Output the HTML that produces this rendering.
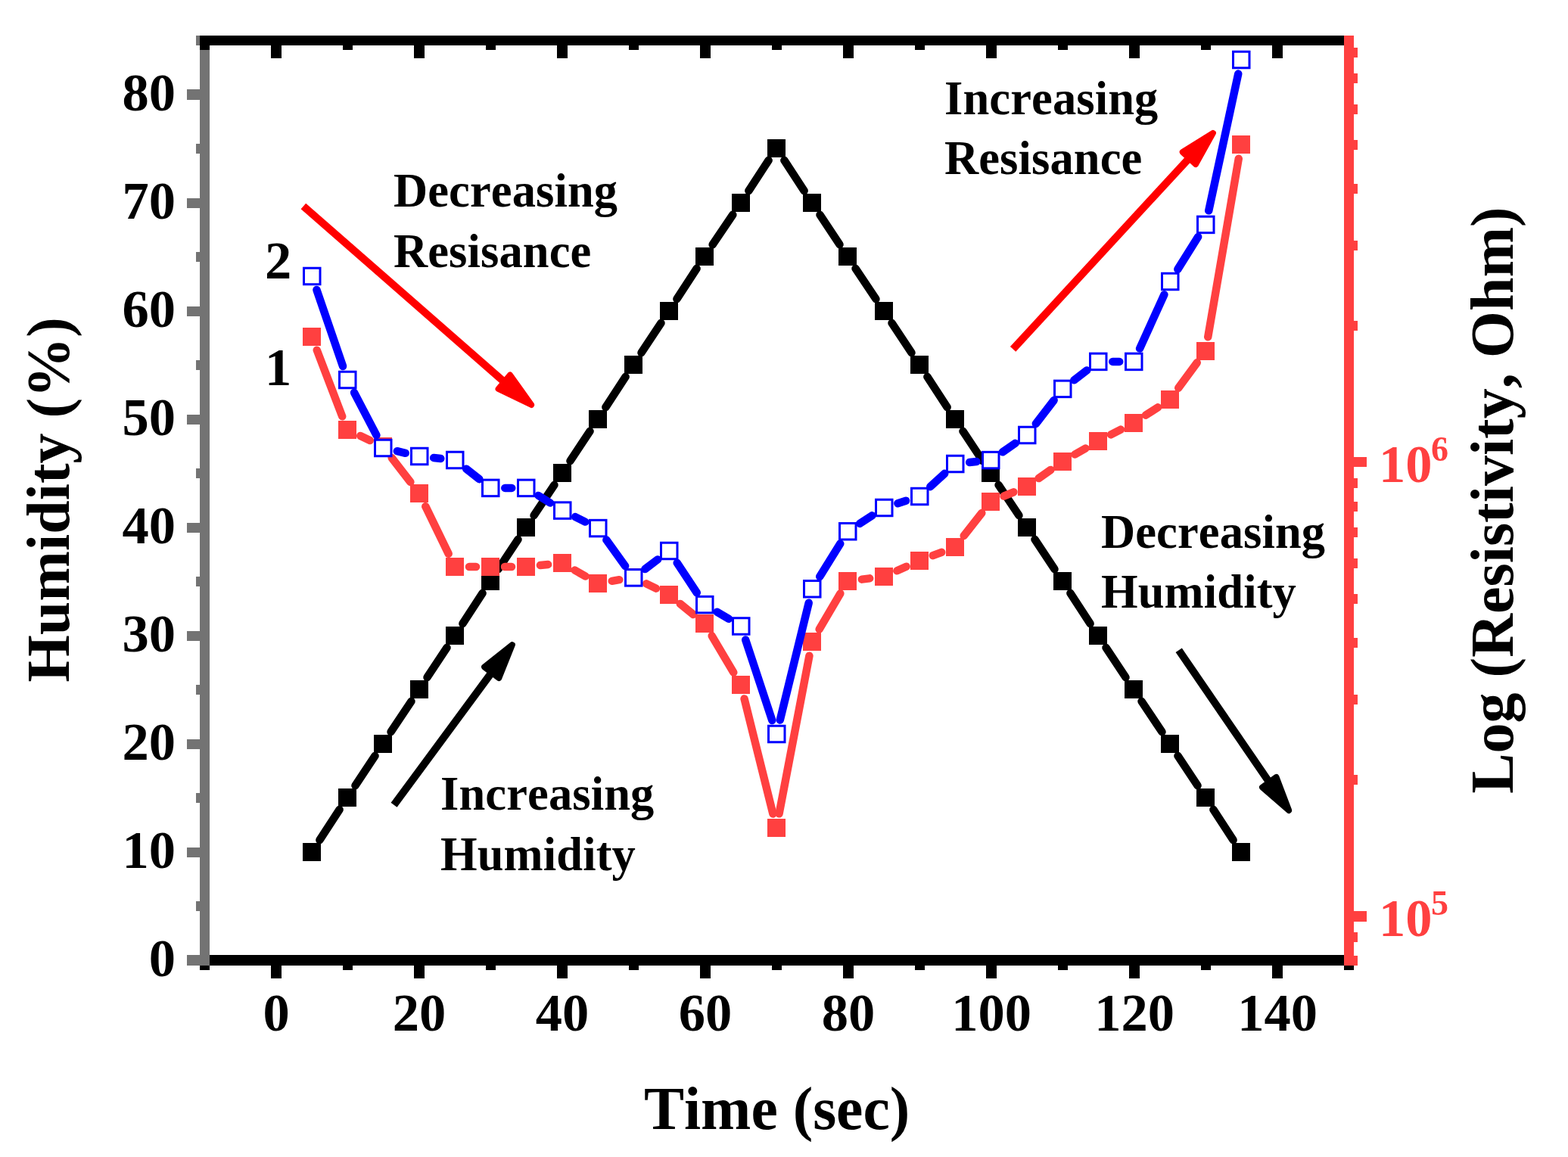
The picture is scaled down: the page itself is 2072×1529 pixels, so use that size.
<!DOCTYPE html>
<html lang="en"><head><meta charset="utf-8"><title>Humidity and resistivity versus time</title>
<style>
html,body{margin:0;padding:0;background:#fff;}
body{width:2072px;height:1529px;overflow:hidden;}
svg{display:block;}
text{font-family:"Liberation Serif",serif;font-weight:bold;font-kerning:none;}
.tk{font-size:70.5px;}
.an{font-size:62.5px;letter-spacing:0.12px;}
.ti{font-size:80px;}
.sup{font-size:46px;}
</style></head>
<body>
<svg width="2072" height="1529" viewBox="0 0 2072 1529">
<rect x="0" y="0" width="2072" height="1529" fill="#ffffff"/>
<g class="s-hum">
<g stroke="#000000" stroke-width="10.5" stroke-linecap="round" fill="none">
<line x1="422.39" y1="1110.09" x2="448.61" y2="1069.91"/>
<line x1="469.49" y1="1038.16" x2="495.51" y2="998.84"/>
<line x1="516.54" y1="967.19" x2="543.46" y2="926.81"/>
<line x1="564.49" y1="895.16" x2="590.51" y2="855.84"/>
<line x1="611.39" y1="824.09" x2="637.61" y2="783.91"/>
<line x1="658.49" y1="752.16" x2="684.51" y2="712.84"/>
<line x1="705.54" y1="681.19" x2="732.46" y2="640.81"/>
<line x1="753.49" y1="609.16" x2="779.51" y2="569.84"/>
<line x1="800.39" y1="538.09" x2="826.61" y2="497.91"/>
<line x1="847.49" y1="466.16" x2="873.51" y2="426.84"/>
<line x1="894.39" y1="395.09" x2="920.61" y2="354.91"/>
<line x1="941.64" y1="323.26" x2="968.36" y2="283.74"/>
<line x1="989.39" y1="252.09" x2="1015.61" y2="211.91"/>
<line x1="1036.39" y1="211.91" x2="1062.61" y2="252.09"/>
<line x1="1083.49" y1="283.84" x2="1109.51" y2="323.16"/>
<line x1="1130.54" y1="354.81" x2="1157.46" y2="395.19"/>
<line x1="1178.49" y1="426.84" x2="1204.51" y2="466.16"/>
<line x1="1225.39" y1="497.91" x2="1251.61" y2="538.09"/>
<line x1="1272.49" y1="569.84" x2="1298.51" y2="609.16"/>
<line x1="1319.54" y1="640.81" x2="1346.46" y2="681.19"/>
<line x1="1367.49" y1="712.84" x2="1393.51" y2="752.16"/>
<line x1="1414.39" y1="783.91" x2="1440.61" y2="824.09"/>
<line x1="1461.49" y1="855.84" x2="1487.51" y2="895.16"/>
<line x1="1508.54" y1="926.81" x2="1535.46" y2="967.19"/>
<line x1="1556.49" y1="998.84" x2="1582.51" y2="1038.16"/>
<line x1="1603.39" y1="1069.91" x2="1629.61" y2="1110.09"/>
</g>
<g fill="#000000">
<rect x="400.00" y="1114.00" width="24" height="24"/>
<rect x="447.00" y="1042.00" width="24" height="24"/>
<rect x="494.00" y="971.00" width="24" height="24"/>
<rect x="542.00" y="899.00" width="24" height="24"/>
<rect x="589.00" y="828.00" width="24" height="24"/>
<rect x="636.00" y="756.00" width="24" height="24"/>
<rect x="683.00" y="685.00" width="24" height="24"/>
<rect x="731.00" y="613.00" width="24" height="24"/>
<rect x="778.00" y="542.00" width="24" height="24"/>
<rect x="825.00" y="470.00" width="24" height="24"/>
<rect x="872.00" y="399.00" width="24" height="24"/>
<rect x="919.00" y="327.00" width="24" height="24"/>
<rect x="967.00" y="256.00" width="24" height="24"/>
<rect x="1014.00" y="184.00" width="24" height="24"/>
<rect x="1061.00" y="256.00" width="24" height="24"/>
<rect x="1108.00" y="327.00" width="24" height="24"/>
<rect x="1156.00" y="399.00" width="24" height="24"/>
<rect x="1203.00" y="470.00" width="24" height="24"/>
<rect x="1250.00" y="542.00" width="24" height="24"/>
<rect x="1297.00" y="613.00" width="24" height="24"/>
<rect x="1345.00" y="685.00" width="24" height="24"/>
<rect x="1392.00" y="756.00" width="24" height="24"/>
<rect x="1439.00" y="828.00" width="24" height="24"/>
<rect x="1486.00" y="899.00" width="24" height="24"/>
<rect x="1534.00" y="971.00" width="24" height="24"/>
<rect x="1581.00" y="1042.00" width="24" height="24"/>
<rect x="1628.00" y="1114.00" width="24" height="24"/>
</g></g>
<g class="s-r1">
<g stroke="#FF4040" stroke-width="10.5" stroke-linecap="round" fill="none">
<line x1="418.78" y1="462.75" x2="452.22" y2="550.25"/>
<line x1="476.21" y1="576.05" x2="488.79" y2="581.95"/>
<line x1="517.63" y1="605.02" x2="542.37" y2="636.98"/>
<line x1="562.28" y1="669.10" x2="592.72" y2="731.90"/>
<line x1="620.00" y1="749.00" x2="629.00" y2="749.00"/>
<line x1="667.00" y1="749.00" x2="676.00" y2="749.00"/>
<line x1="713.90" y1="747.03" x2="724.10" y2="745.97"/>
<line x1="759.48" y1="753.46" x2="773.52" y2="761.54"/>
<line x1="808.73" y1="767.81" x2="818.27" y2="766.19"/>
<line x1="854.07" y1="771.35" x2="866.93" y2="777.65"/>
<line x1="898.77" y1="797.95" x2="916.23" y2="812.05"/>
<line x1="940.69" y1="840.35" x2="969.31" y2="888.65"/>
<line x1="983.59" y1="923.44" x2="1021.41" y2="1075.56"/>
<line x1="1029.57" y1="1075.34" x2="1069.43" y2="866.66"/>
<line x1="1082.62" y1="831.62" x2="1110.38" y2="784.38"/>
<line x1="1138.85" y1="765.64" x2="1149.15" y2="764.36"/>
<line x1="1185.35" y1="754.25" x2="1197.65" y2="748.75"/>
<line x1="1232.74" y1="734.20" x2="1244.26" y2="729.80"/>
<line x1="1273.72" y1="708.04" x2="1297.28" y2="677.96"/>
<line x1="1326.54" y1="655.69" x2="1339.46" y2="650.31"/>
<line x1="1372.55" y1="632.08" x2="1388.45" y2="620.92"/>
<line x1="1420.48" y1="600.54" x2="1434.52" y2="592.46"/>
<line x1="1467.92" y1="574.36" x2="1481.08" y2="567.64"/>
<line x1="1513.96" y1="548.69" x2="1530.04" y2="538.31"/>
<line x1="1557.25" y1="512.69" x2="1581.75" y2="479.31"/>
<line x1="1596.22" y1="445.28" x2="1636.78" y2="209.72"/>
</g>
<g fill="#FF4040">
<rect x="400.00" y="433.00" width="24" height="24"/>
<rect x="447.00" y="556.00" width="24" height="24"/>
<rect x="494.00" y="578.00" width="24" height="24"/>
<rect x="542.00" y="640.00" width="24" height="24"/>
<rect x="589.00" y="737.00" width="24" height="24"/>
<rect x="636.00" y="737.00" width="24" height="24"/>
<rect x="683.00" y="737.00" width="24" height="24"/>
<rect x="731.00" y="732.00" width="24" height="24"/>
<rect x="778.00" y="759.00" width="24" height="24"/>
<rect x="825.00" y="751.00" width="24" height="24"/>
<rect x="872.00" y="774.00" width="24" height="24"/>
<rect x="919.00" y="812.00" width="24" height="24"/>
<rect x="967.00" y="893.00" width="24" height="24"/>
<rect x="1014.00" y="1082.00" width="24" height="24"/>
<rect x="1061.00" y="836.00" width="24" height="24"/>
<rect x="1108.00" y="756.00" width="24" height="24"/>
<rect x="1156.00" y="750.00" width="24" height="24"/>
<rect x="1203.00" y="729.00" width="24" height="24"/>
<rect x="1250.00" y="711.00" width="24" height="24"/>
<rect x="1297.00" y="651.00" width="24" height="24"/>
<rect x="1345.00" y="631.00" width="24" height="24"/>
<rect x="1392.00" y="598.00" width="24" height="24"/>
<rect x="1439.00" y="571.00" width="24" height="24"/>
<rect x="1486.00" y="547.00" width="24" height="24"/>
<rect x="1534.00" y="516.00" width="24" height="24"/>
<rect x="1581.00" y="452.00" width="24" height="24"/>
<rect x="1628.00" y="179.00" width="24" height="24"/>
</g></g>
<g class="s-r2">
<g stroke="#0000FF" stroke-width="10.5" stroke-linecap="round" fill="none">
<line x1="418.42" y1="382.97" x2="453.08" y2="484.03"/>
<line x1="468.05" y1="518.84" x2="497.45" y2="575.16"/>
<line x1="524.77" y1="596.24" x2="535.73" y2="598.76"/>
<line x1="573.14" y1="605.01" x2="582.36" y2="605.99"/>
<line x1="616.19" y1="619.73" x2="633.31" y2="633.17"/>
<line x1="667.25" y1="644.90" x2="676.25" y2="644.90"/>
<line x1="711.41" y1="654.90" x2="727.09" y2="664.60"/>
<line x1="760.24" y1="683.10" x2="773.26" y2="689.60"/>
<line x1="801.35" y1="713.52" x2="826.15" y2="747.98"/>
<line x1="852.43" y1="751.97" x2="869.07" y2="739.43"/>
<line x1="894.73" y1="743.85" x2="920.77" y2="783.25"/>
<line x1="947.60" y1="808.78" x2="962.90" y2="817.82"/>
<line x1="985.20" y1="845.54" x2="1020.30" y2="951.96"/>
<line x1="1030.77" y1="951.55" x2="1068.73" y2="796.70"/>
<line x1="1083.24" y1="762.09" x2="1110.26" y2="718.41"/>
<line x1="1136.17" y1="691.88" x2="1152.33" y2="681.37"/>
<line x1="1186.35" y1="665.22" x2="1197.15" y2="661.78"/>
<line x1="1229.27" y1="643.17" x2="1248.23" y2="625.83"/>
<line x1="1281.15" y1="611.03" x2="1290.35" y2="610.07"/>
<line x1="1324.89" y1="597.31" x2="1341.61" y2="585.79"/>
<line x1="1368.83" y1="559.94" x2="1392.67" y2="528.96"/>
<line x1="1419.33" y1="502.35" x2="1436.17" y2="489.45"/>
<line x1="1470.25" y1="477.90" x2="1479.25" y2="477.90"/>
<line x1="1506.09" y1="460.59" x2="1538.41" y2="389.31"/>
<line x1="1556.33" y1="355.89" x2="1583.17" y2="313.01"/>
<line x1="1597.26" y1="278.33" x2="1636.24" y2="97.57"/>
</g>
<g fill="#ffffff" stroke="#0000FF" stroke-width="3">
<rect x="401.50" y="354.25" width="21.5" height="21.5"/>
<rect x="448.50" y="491.25" width="21.5" height="21.5"/>
<rect x="495.50" y="581.25" width="21.5" height="21.5"/>
<rect x="543.50" y="592.25" width="21.5" height="21.5"/>
<rect x="590.50" y="597.25" width="21.5" height="21.5"/>
<rect x="637.50" y="634.15" width="21.5" height="21.5"/>
<rect x="684.50" y="634.15" width="21.5" height="21.5"/>
<rect x="732.50" y="663.85" width="21.5" height="21.5"/>
<rect x="779.50" y="687.35" width="21.5" height="21.5"/>
<rect x="826.50" y="752.65" width="21.5" height="21.5"/>
<rect x="873.50" y="717.25" width="21.5" height="21.5"/>
<rect x="920.50" y="788.35" width="21.5" height="21.5"/>
<rect x="968.50" y="816.75" width="21.5" height="21.5"/>
<rect x="1015.50" y="959.25" width="21.5" height="21.5"/>
<rect x="1062.50" y="767.50" width="21.5" height="21.5"/>
<rect x="1109.50" y="691.50" width="21.5" height="21.5"/>
<rect x="1157.50" y="660.25" width="21.5" height="21.5"/>
<rect x="1204.50" y="645.25" width="21.5" height="21.5"/>
<rect x="1251.50" y="602.25" width="21.5" height="21.5"/>
<rect x="1298.50" y="597.35" width="21.5" height="21.5"/>
<rect x="1346.50" y="564.25" width="21.5" height="21.5"/>
<rect x="1393.50" y="503.15" width="21.5" height="21.5"/>
<rect x="1440.50" y="467.15" width="21.5" height="21.5"/>
<rect x="1487.50" y="467.15" width="21.5" height="21.5"/>
<rect x="1535.50" y="361.25" width="21.5" height="21.5"/>
<rect x="1582.50" y="286.15" width="21.5" height="21.5"/>
<rect x="1629.50" y="68.25" width="21.5" height="21.5"/>
</g></g>
<g class="axes" shape-rendering="crispEdges">
<rect x="264" y="47" width="13" height="1229" fill="#737373"/>
<rect x="247" y="1262.0" width="17" height="14" fill="#737373"/>
<rect x="259" y="1191.0" width="5" height="13" fill="#737373"/>
<rect x="247" y="1120.0" width="17" height="13" fill="#737373"/>
<rect x="259" y="1048.0" width="5" height="13" fill="#737373"/>
<rect x="247" y="977.0" width="17" height="13" fill="#737373"/>
<rect x="259" y="905.0" width="5" height="13" fill="#737373"/>
<rect x="247" y="834.0" width="17" height="13" fill="#737373"/>
<rect x="259" y="762.0" width="5" height="13" fill="#737373"/>
<rect x="247" y="691.0" width="17" height="13" fill="#737373"/>
<rect x="259" y="619.0" width="5" height="13" fill="#737373"/>
<rect x="247" y="548.0" width="17" height="13" fill="#737373"/>
<rect x="259" y="476.0" width="5" height="13" fill="#737373"/>
<rect x="247" y="405.0" width="17" height="13" fill="#737373"/>
<rect x="259" y="333.0" width="5" height="13" fill="#737373"/>
<rect x="247" y="262.0" width="17" height="13" fill="#737373"/>
<rect x="259" y="190.0" width="5" height="13" fill="#737373"/>
<rect x="247" y="118.0" width="17" height="14" fill="#737373"/>
<rect x="259" y="47.0" width="5" height="13" fill="#737373"/>
<rect x="1776" y="47" width="13" height="1229" fill="#FF4040"/>
<rect x="1789" y="1262.6" width="5" height="13" fill="#FF4040"/>
<rect x="1789" y="1232.0" width="5" height="13" fill="#FF4040"/>
<rect x="1789" y="1204.0" width="17" height="14" fill="#FF4040"/>
<rect x="1789" y="1023.9" width="5" height="13" fill="#FF4040"/>
<rect x="1789" y="918.2" width="5" height="13" fill="#FF4040"/>
<rect x="1789" y="843.3" width="5" height="13" fill="#FF4040"/>
<rect x="1789" y="785.1" width="5" height="13" fill="#FF4040"/>
<rect x="1789" y="737.6" width="5" height="13" fill="#FF4040"/>
<rect x="1789" y="697.4" width="5" height="13" fill="#FF4040"/>
<rect x="1789" y="662.6" width="5" height="13" fill="#FF4040"/>
<rect x="1789" y="632.0" width="5" height="13" fill="#FF4040"/>
<rect x="1789" y="604.0" width="17" height="13" fill="#FF4040"/>
<rect x="1789" y="423.9" width="5" height="13" fill="#FF4040"/>
<rect x="1789" y="318.2" width="5" height="13" fill="#FF4040"/>
<rect x="1789" y="243.3" width="5" height="13" fill="#FF4040"/>
<rect x="1789" y="185.1" width="5" height="13" fill="#FF4040"/>
<rect x="1789" y="137.6" width="5" height="13" fill="#FF4040"/>
<rect x="1789" y="97.4" width="5" height="13" fill="#FF4040"/>
<rect x="1789" y="62.6" width="5" height="13" fill="#FF4040"/>
<rect x="264" y="47" width="1512" height="13" fill="#000"/>
<rect x="277" y="1262" width="1499" height="14" fill="#000"/>
<rect x="264.0" y="60" width="13" height="6" fill="#000"/>
<rect x="264.0" y="1276" width="13" height="6" fill="#000"/>
<rect x="358.0" y="60" width="14" height="17" fill="#000"/>
<rect x="358.0" y="1276" width="14" height="17" fill="#000"/>
<rect x="453.0" y="60" width="13" height="6" fill="#000"/>
<rect x="453.0" y="1276" width="13" height="6" fill="#000"/>
<rect x="547.0" y="60" width="14" height="17" fill="#000"/>
<rect x="547.0" y="1276" width="14" height="17" fill="#000"/>
<rect x="642.0" y="60" width="13" height="6" fill="#000"/>
<rect x="642.0" y="1276" width="13" height="6" fill="#000"/>
<rect x="736.0" y="60" width="14" height="17" fill="#000"/>
<rect x="736.0" y="1276" width="14" height="17" fill="#000"/>
<rect x="831.0" y="60" width="13" height="6" fill="#000"/>
<rect x="831.0" y="1276" width="13" height="6" fill="#000"/>
<rect x="925.0" y="60" width="14" height="17" fill="#000"/>
<rect x="925.0" y="1276" width="14" height="17" fill="#000"/>
<rect x="1020.0" y="60" width="13" height="6" fill="#000"/>
<rect x="1020.0" y="1276" width="13" height="6" fill="#000"/>
<rect x="1114.0" y="60" width="14" height="17" fill="#000"/>
<rect x="1114.0" y="1276" width="14" height="17" fill="#000"/>
<rect x="1209.0" y="60" width="13" height="6" fill="#000"/>
<rect x="1209.0" y="1276" width="13" height="6" fill="#000"/>
<rect x="1303.0" y="60" width="14" height="17" fill="#000"/>
<rect x="1303.0" y="1276" width="14" height="17" fill="#000"/>
<rect x="1398.0" y="60" width="13" height="6" fill="#000"/>
<rect x="1398.0" y="1276" width="13" height="6" fill="#000"/>
<rect x="1492.0" y="60" width="14" height="17" fill="#000"/>
<rect x="1492.0" y="1276" width="14" height="17" fill="#000"/>
<rect x="1587.0" y="60" width="13" height="6" fill="#000"/>
<rect x="1587.0" y="1276" width="13" height="6" fill="#000"/>
<rect x="1681.0" y="60" width="14" height="17" fill="#000"/>
<rect x="1681.0" y="1276" width="14" height="17" fill="#000"/>
<rect x="1776.0" y="1276" width="13" height="6" fill="#000"/>
</g>
<g class="tk" fill="#000">
<text x="232" y="1290.4" text-anchor="end">0</text>
<text x="232" y="1147.4" text-anchor="end">10</text>
<text x="232" y="1004.4" text-anchor="end">20</text>
<text x="232" y="861.4" text-anchor="end">30</text>
<text x="232" y="718.4" text-anchor="end">40</text>
<text x="232" y="575.4" text-anchor="end">50</text>
<text x="232" y="432.4" text-anchor="end">60</text>
<text x="232" y="289.4" text-anchor="end">70</text>
<text x="232" y="146.4" text-anchor="end">80</text>
<text x="365.0" y="1362.3" text-anchor="middle">0</text>
<text x="554.0" y="1362.3" text-anchor="middle">20</text>
<text x="743.0" y="1362.3" text-anchor="middle">40</text>
<text x="932.0" y="1362.3" text-anchor="middle">60</text>
<text x="1121.0" y="1362.3" text-anchor="middle">80</text>
<text x="1310.0" y="1362.3" text-anchor="middle">100</text>
<text x="1499.0" y="1362.3" text-anchor="middle">120</text>
<text x="1688.0" y="1362.3" text-anchor="middle">140</text>
</g>
<g fill="#FF4040">
<text x="1822" y="1236.6" class="tk">10<tspan class="sup" dx="-1.5" dy="-28">5</tspan></text>
<text x="1822" y="636.6" class="tk">10<tspan class="sup" dx="-1.5" dy="-28">6</tspan></text>
</g>
<g class="ti" fill="#000">
<text x="1026.6" y="1492" text-anchor="middle" style="font-size:79.6px">Time (sec)</text>
<text transform="translate(90.5,660.3) rotate(-90)" text-anchor="middle">Humidity (%)</text>
<text transform="translate(1999,661) rotate(-90)" text-anchor="middle">Log (Resistivity, Ohm)</text>
</g>
<g class="an" fill="#000">
<text x="520" y="273.1">Decreasing</text>
<text x="520" y="353.1">Resisance</text>
<text x="1248" y="151">Increasing</text>
<text x="1248" y="229.75">Resisance</text>
<text x="582" y="1069.75">Increasing</text>
<text x="582" y="1149.75">Humidity</text>
<text x="1455" y="723.75">Decreasing</text>
<text x="1455" y="802.5">Humidity</text>
</g>
<g class="tk" fill="#000">
<text x="350" y="368">2</text>
<text x="350" y="509">1</text>
</g>
<g class="arrows">
<line x1="400.9" y1="272.5" x2="668.6" y2="506.7" stroke="#FF0000" stroke-width="10"/>
<polygon points="702.2,535.0 674.0,495.5 658.6,514.0" fill="#FF0000" stroke="#FF0000" stroke-width="8" stroke-linejoin="round"/>
<line x1="1338.6" y1="461.4" x2="1573.4" y2="206.8" stroke="#FF0000" stroke-width="10"/>
<polygon points="1602.9,175.9 1562.7,201.0 1580.0,217.0" fill="#FF0000" stroke="#FF0000" stroke-width="8" stroke-linejoin="round"/>
<line x1="520.6" y1="1063.8" x2="651.5" y2="886.3" stroke="#000000" stroke-width="10"/>
<polygon points="676.9,852.1 640.1,881.5 659.3,896.0" fill="#000000" stroke="#000000" stroke-width="8" stroke-linejoin="round"/>
<line x1="1557.7" y1="859.2" x2="1678.9" y2="1036.2" stroke="#000000" stroke-width="10"/>
<polygon points="1703.2,1071.0 1686.5,1026.9 1668.0,1040.5" fill="#000000" stroke="#000000" stroke-width="8" stroke-linejoin="round"/>
</g>
</svg>
</body></html>
